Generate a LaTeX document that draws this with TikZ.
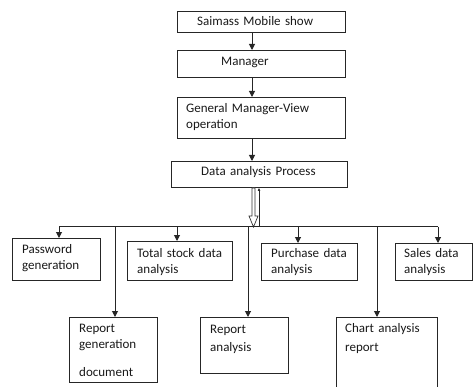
\documentclass[tikz,border=0pt]{standalone}
\usepackage{fontspec}
\setmainfont{Carlito}
\usetikzlibrary{arrows.meta, positioning, calc}

\begin{document}
\begin{tikzpicture}[x=1pt, y=-1pt,
  box/.style={draw=black!85, line width=1pt, anchor=north west, inner sep=0pt},
  txt/.style={anchor=north west, align=left, inner sep=0pt, text width=140pt,
    font=\fontsize{13}{16}\selectfont, text=black!90},
  arr/.style={draw=black!85, line width=1pt, -{Triangle[length=6pt, width=6pt]}}]
\useasboundingbox (0,0) rectangle (473,387);
\clip (0,0) rectangle (473,387);

% top chain
\node[box, minimum width=168pt, minimum height=21pt] (sms) at (177,11) {};
\node[box, minimum width=168pt, minimum height=27pt] (mgr) at (177,50) {};
\node[box, minimum width=168pt, minimum height=41pt] (gmv) at (177,97) {};
\node[box, minimum width=176pt, minimum height=26pt] (dap) at (171,161) {};
\node[txt] (sms-t) at (197,14) {\strut Saimass Mobile show};
\node[txt] (mgr-t) at (221,54) {\strut Manager};
\node[txt] (gmv-t) at (186,101) {\strut General Manager-View\\operation};
\node[txt] (dap-t) at (201,164) {\strut Data analysis Process};

\draw[arr] ([xshift=75pt]sms.south west) -- ([xshift=75pt]mgr.north west);
\draw[arr] ([xshift=75pt]mgr.south west) -- ([xshift=75pt]gmv.north west);
\draw[arr] ([xshift=75pt]gmv.south west) -- ([xshift=81pt]dap.north west);

% first row
\node[box, minimum width=88pt, minimum height=42pt] (pw) at (12,238) {};
\node[box, minimum width=105pt, minimum height=39pt] (tsd) at (127,241) {};
\node[box, minimum width=96pt, minimum height=37pt] (pda) at (261,243) {};
\node[box, minimum width=77pt, minimum height=37pt] (sda) at (395,243) {};
\node[txt] (pw-t) at (22,242) {\strut Password\\generation};
\node[txt] (tsd-t) at (137,246) {\strut Total stock data\\analysis};
\node[txt] (pda-t) at (271,246) {\strut Purchase data\\analysis};
\node[txt] (sda-t) at (404,246) {\strut Sales data\\analysis};

% second row
\node[box, minimum width=88pt, minimum height=65pt] (rgd) at (69,317) {};
\node[box, minimum width=88pt, minimum height=56pt] (ra) at (200,317) {};
\node[box, minimum width=101pt, minimum height=90pt] (car) at (336,317) {};
\node[txt] (rgd-t) at (79,321) {\strut Report\\generation\\[12pt]document};
\node[txt] (ra-t) at (210,322) {\strut Report\\[2pt]analysis};
\node[txt] (car-t) at (345,321) {\strut Chart analysis\\[3pt]report};

% hollow arrow and return line
\draw[draw=black!80, line width=0.7pt, fill=white] ([xshift=81pt]dap.south west)
  -- ++(0,28) -- ++(-3,0) -- ++(4.5,11) -- ++(4.5,-11) -- ++(-3,0) -- ++(0,-28) -- cycle;
\coordinate (up) at (259,226.5);
\draw[draw=black!85, line width=0.6pt, -{Triangle[length=3pt, width=2.5pt]}] (up) -- (up |- dap.south);

% bus
\coordinate (busL) at (59,226.5);
\coordinate (busR) at (438,226.5);
\draw[draw=black!85, line width=1pt] (busL) -- (busR);
\foreach \b/\x in {pw/59, tsd/177, pda/298, sda/438} {
  \coordinate (t\b) at (\x,226.5);
  \draw[arr] (t\b) -- (t\b |- \b.north);
}
\foreach \b/\x in {rgd/115, ra/248, car/377} {
  \coordinate (t\b) at (\x,226.5);
  \draw[arr] (t\b) -- (t\b |- \b.north);
}
\end{tikzpicture}
\end{document}
